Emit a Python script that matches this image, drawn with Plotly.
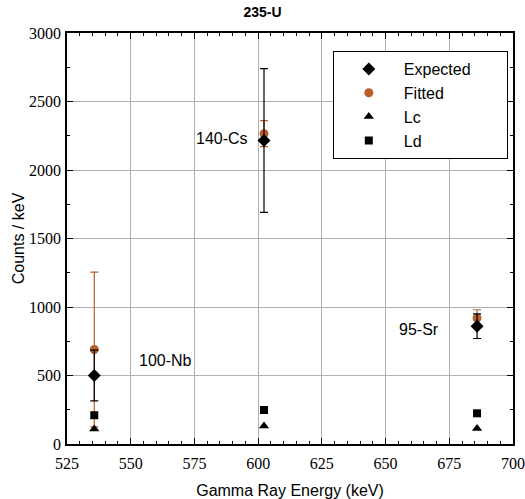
import plotly.graph_objects as go

energy = [535.7, 602.3, 685.9]
expected = [500, 2215, 860]
expected_err = [185, 525, 90]
fitted = [690, 2265, 920]
fitted_err = [565, 95, 60]
lc = [110, 131, 114]
ld = [210, 248, 224]
labels = ["100-Nb", "140-Cs", "95-Sr"]
label_x = [563.5, 586, 663]
label_y = [613, 2233, 839]
series_names = ["Expected", "Fitted", "Lc", "Ld"]

brown = "#b5602b"
pad = "\u00a0" * 7

fig = go.Figure()
fig.add_trace(go.Scatter(x=energy, y=fitted, mode="markers", name=series_names[1] + pad,
                         legendrank=2,
                         marker=dict(symbol="circle", size=9, color=brown),
                         error_y=dict(type="data", array=fitted_err, color=brown, thickness=1.2, width=4)))
fig.add_trace(go.Scatter(x=energy, y=expected, mode="markers", name=series_names[0] + pad,
                         legendrank=1,
                         marker=dict(symbol="diamond", size=10, color="black"),
                         error_y=dict(type="data", array=expected_err, color="black", thickness=1.2, width=4)))
fig.add_trace(go.Scatter(x=energy, y=lc, mode="markers", name=series_names[2], legendrank=3,
                         marker=dict(symbol="triangle-up", size=9, color="black")))
fig.add_trace(go.Scatter(x=energy, y=ld, mode="markers", name=series_names[3], legendrank=4,
                         marker=dict(symbol="square", size=8, color="black")))

for t, x, y in zip(labels, label_x, label_y):
    fig.add_annotation(x=x, y=y, text=t, showarrow=False, xanchor="center",
                       font=dict(family="Liberation Sans, Arial", size=16, color="black"))

axis_common = dict(showgrid=True, gridcolor="#b0b0b0", gridwidth=1, showline=True,
                   linecolor="black", linewidth=1.5, mirror="ticks", ticks="inside",
                   ticklen=6, tickcolor="black", zeroline=False, automargin=False,
                   tickfont=dict(family="Liberation Serif, Times New Roman", size=16, color="black"))

fig.update_layout(
    width=525, height=499,
    margin=dict(l=67, r=12, t=33, b=55, autoexpand=False),
    paper_bgcolor="white", plot_bgcolor="white",
    title=dict(text="<b>235-U</b>", x=0.5, xanchor="center", y=0.985, yanchor="top",
               font=dict(family="Liberation Sans, Arial", size=14, color="black"),
               automargin=False),
    xaxis=dict(range=[525, 700], tick0=525, dtick=25, ticklabelstandoff=4,
               minor=dict(dtick=5, ticks="inside", ticklen=3, tickcolor="black", showgrid=False),
               title=dict(text="Gamma Ray Energy (keV)", standoff=14,
                          font=dict(family="Liberation Sans, Arial", size=16, color="black")),
               **axis_common),
    yaxis=dict(range=[0, 3000], dtick=500, ticklabelstandoff=1,
               minor=dict(dtick=250, ticks="inside", ticklen=3, tickcolor="black", showgrid=False),
               title=dict(text="Counts / keV", standoff=0,
                          font=dict(family="Liberation Sans, Arial", size=16, color="black")),
               **axis_common),
    legend=dict(x=0.596, y=0.956, xanchor="left", yanchor="top",
                bordercolor="black", borderwidth=1, bgcolor="white",
                traceorder="normal",
                font=dict(family="Liberation Sans, Arial", size=16, color="black"),
                itemwidth=60),
    showlegend=True,
)

fig.write_html("out.html", config={"displayModeBar": False},
               post_script="document.body.style.margin='0px';document.body.style.padding='0px';")
